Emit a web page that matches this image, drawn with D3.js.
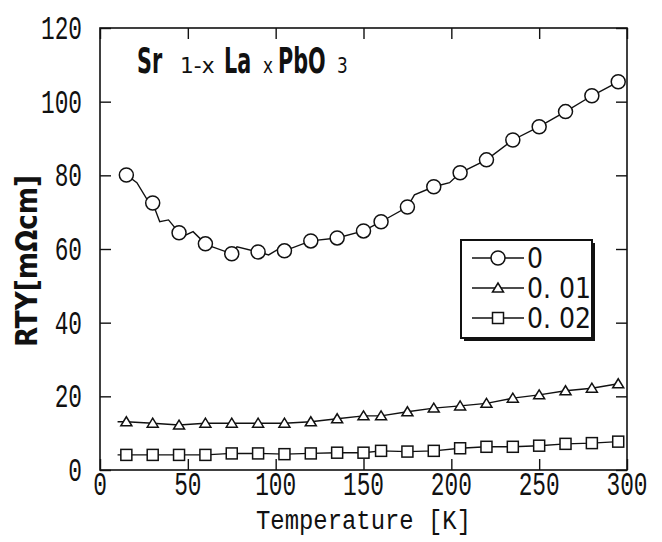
<!DOCTYPE html>
<html><head><meta charset="utf-8">
<script src="https://cdn.jsdelivr.net/npm/d3@7"></script>
<style>html,body{margin:0;padding:0;background:#fff;}</style>
</head><body>
<svg id="chart" width="662" height="542"></svg>
<script>
// ---- data ----
const temps = [15,30,45,60,75,90,105,120,135,150,160,175,190,205,220,235,250,265,280,295];
const rho_x0   = [80.1,72.5,64.4,61.4,58.7,59.2,59.5,62.2,63.0,64.9,67.4,71.4,76.9,80.7,84.2,89.6,93.2,97.3,101.6,105.4];
const rho_x001 = [13.1,12.7,12.2,12.7,12.7,12.7,12.7,13.1,13.9,14.7,14.7,15.8,16.8,17.4,18.1,19.5,20.4,21.5,22.2,23.4];
const rho_x002 = [4.1,4.1,4.1,4.1,4.5,4.5,4.3,4.5,4.7,4.7,5.2,5.0,5.2,5.9,6.3,6.3,6.6,7.1,7.3,7.7];
// extra measured points of the continuous curves (between markers)
const extraT_x0 = [11,21,27,34,39,48,53,64,78,96,101,179,199];
const extraV_x0 = [80.1,78.0,73.3,67.4,67.9,63.6,64.7,60.6,60.6,58.4,59.8,74.7,78.0];
const startT = 10;
const startV_x001 = 13.1;
const startV_x002 = 4.1;
const seriesNames = ["0","0. 01","0. 02"];
const xTicks = [0,50,100,150,200,250,300];
const yTicks = [0,20,40,60,80,100,120];

// ---- layout ----
const svg = d3.select("#chart");
const L = 100, R = 627, T = 28, B = 470;
const x = d3.scaleLinear().domain([0,300]).range([L,R]);
const y = d3.scaleLinear().domain([0,120]).range([B,T]);
const ink = "#111";
const monoFont = "'Liberation Mono','DejaVu Sans Mono',monospace";
const narrow = "'Liberation Sans Narrow','DejaVu Sans Condensed',sans-serif";

// frame
svg.append("rect").attr("x",L).attr("y",T).attr("width",R-L).attr("height",B-T)
  .attr("fill","none").attr("stroke",ink).attr("stroke-width",1.6);

// ticks (inward, all four sides)
const tk = 11;
const axB = d3.axisBottom(x).tickValues(xTicks).tickSize(-tk).tickFormat("");
const axT = d3.axisTop(x).tickValues(xTicks).tickSize(-tk).tickFormat("");
const axL = d3.axisLeft(y).tickValues(yTicks).tickSize(-tk).tickFormat("");
const axR = d3.axisRight(y).tickValues(yTicks).tickSize(-tk).tickFormat("");
[[axB,`translate(0,${B})`],[axT,`translate(0,${T})`],[axL,`translate(${L},0)`],[axR,`translate(${R},0)`]].forEach(([a,t])=>{
  const g = svg.append("g").attr("transform",t).call(a);
  g.select(".domain").remove();
  g.selectAll("line").attr("stroke",ink).attr("stroke-width",1.4);
});

// tick labels
svg.append("g").selectAll("text").data(xTicks).join("text")
  .attr("transform",d=>`translate(${x(d)},495) scale(0.76,1.1)`)
  .attr("text-anchor","middle").attr("font-family",monoFont).attr("font-size",30)
  .attr("fill",ink).text(d=>d);
svg.append("g").selectAll("text").data(yTicks).join("text")
  .attr("transform",d=>`translate(82,${y(d)+11}) scale(0.76,1.1)`)
  .attr("text-anchor","end").attr("font-family",monoFont).attr("font-size",30)
  .attr("fill",ink).text(d=>d);

// axis titles
svg.append("text").attr("x",x(150)).attr("y",529).attr("text-anchor","middle")
  .attr("font-family",monoFont).attr("font-size",27).attr("fill",ink)
  .attr("textLength",215).attr("lengthAdjust","spacingAndGlyphs").text("Temperature [K]");
svg.append("text").attr("transform","translate(37,261) rotate(-90)").attr("text-anchor","middle")
  .attr("font-family",narrow).attr("font-size",30).attr("font-weight",600)
  .attr("fill",ink).attr("textLength",172).attr("lengthAdjust","spacingAndGlyphs").text("RTY[mΩcm]");

// chart title: pieces scaled horizontally to fit their measured spans
const tg = svg.append("g").attr("font-family",narrow).attr("fill",ink);
[["Sr",137,36,"bold",0.64],["1-x",180,22,"normal",1.1],["La",224,36,"bold",0.64],["x",263,22,"normal",0.85],["PbO",278,36,"bold",0.64],["3",337,22,"normal",0.85]]
  .forEach(([s,px,fs,fw,sx])=>{
    tg.append("text").attr("transform",`translate(${px},73) scale(${sx},1)`)
      .attr("font-size",fs).attr("font-weight",fw).text(s);
  });

// ---- data curves ----
const line = d3.line().x(d=>x(d[0])).y(d=>y(d[1]));
const pts0 = temps.map((t,i)=>[t,rho_x0[i]]).concat(extraT_x0.map((t,i)=>[t,extraV_x0[i]])).sort((a,b)=>a[0]-b[0]);
const pts1 = [[startT,startV_x001]].concat(temps.map((t,i)=>[t,rho_x001[i]]));
const pts2 = [[startT,startV_x002]].concat(temps.map((t,i)=>[t,rho_x002[i]]));
[pts0,pts1,pts2].forEach(p=>{
  svg.append("path").datum(p).attr("d",line).attr("fill","none").attr("stroke",ink).attr("stroke-width",1.4);
});

// markers
function circ(g,cx,cy){ g.append("circle").attr("cx",cx).attr("cy",cy).attr("r",7).attr("fill","#fff").attr("stroke",ink).attr("stroke-width",1.5); }
function tri(g,cx,cy){ g.append("path").attr("d",`M${cx-5.5},${cy+4}L${cx+5.5},${cy+4}L${cx},${cy-5}Z`).attr("fill","#fff").attr("stroke",ink).attr("stroke-width",1.5); }
function sq(g,cx,cy){ g.append("rect").attr("x",cx-5.5).attr("y",cy-5.5).attr("width",11).attr("height",11).attr("fill","#fff").attr("stroke",ink).attr("stroke-width",1.5); }
const mg = svg.append("g");
temps.forEach((t,i)=>{ circ(mg,x(t),y(rho_x0[i])); });
temps.forEach((t,i)=>{ tri(mg,x(t),y(rho_x001[i])); });
temps.forEach((t,i)=>{ sq(mg,x(t),y(rho_x002[i])); });

// ---- legend ----
const lg = svg.append("g");
lg.append("rect").attr("x",464).attr("y",243).attr("width",131).attr("height",98).attr("fill",ink);
lg.append("rect").attr("x",461).attr("y",240).attr("width",131).attr("height",98).attr("fill","#fff").attr("stroke",ink).attr("stroke-width",2);
const markers = [circ,tri,sq];
seriesNames.forEach((nm,i)=>{
  const ry = 258 + i*30;
  lg.append("line").attr("x1",472).attr("x2",524).attr("y1",ry).attr("y2",ry).attr("stroke",ink).attr("stroke-width",1.4);
  markers[i](lg,498,ry);
  lg.append("text").attr("x",527).attr("y",ry+10).attr("font-family",narrow).attr("font-size",28)
    .attr("fill",ink).text(nm);
});
</script>
</body></html>
